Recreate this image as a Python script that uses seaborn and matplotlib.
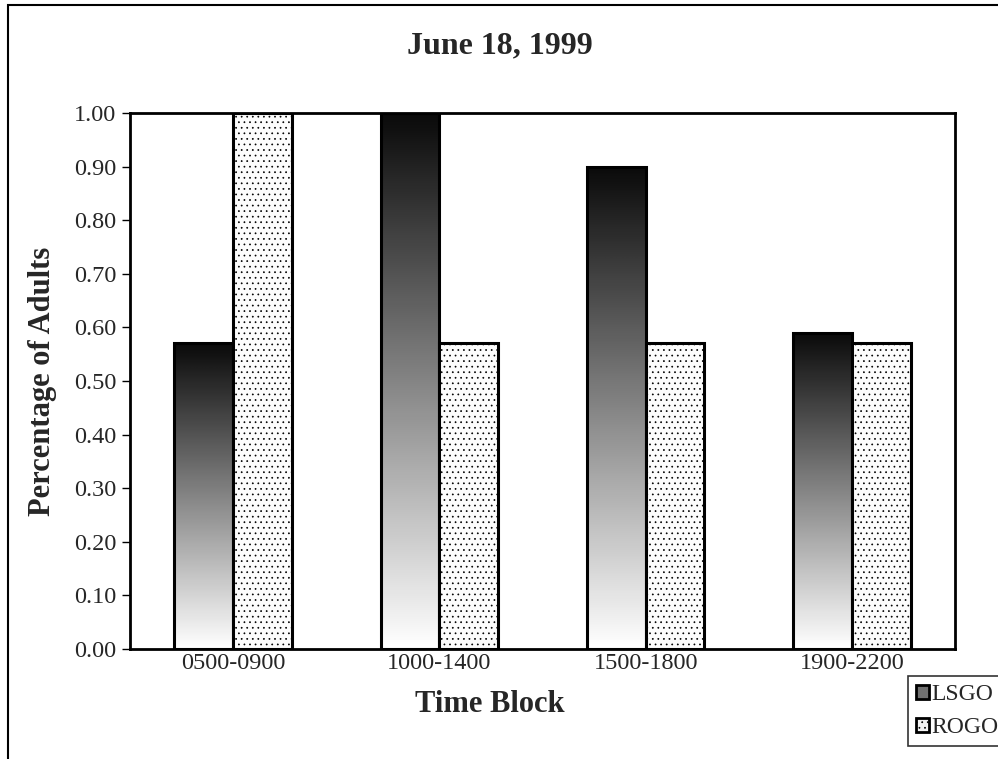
import numpy as np
import pandas as pd
import matplotlib
matplotlib.use("Agg")
import matplotlib.pyplot as plt
import seaborn as sns
from matplotlib.patches import Patch, Rectangle

# ---- data ----
categories = ["0500-0900", "1000-1400", "1500-1800", "1900-2200"]
series_names = ["LSGO", "ROGO"]
lsgo_values = [0.57, 1.00, 0.90, 0.59]
rogo_values = [1.00, 0.57, 0.57, 0.57]
y_ticks = [0.0, 0.1, 0.2, 0.3, 0.4, 0.5, 0.6, 0.7, 0.8, 0.9, 1.0]
title_text = "June 18, 1999"
x_label = "Time Block"
y_label = "Percentage of Adults"

df = pd.DataFrame({
    "Time Block": categories * 2,
    "Series": [series_names[0]] * 4 + [series_names[1]] * 4,
    "Value": lsgo_values + rogo_values,
})

sns.set_theme(style="white")
plt.rcParams["font.family"] = ["Liberation Serif", "DejaVu Serif"]
plt.rcParams["hatch.color"] = "#aaaaaa"
plt.rcParams["hatch.linewidth"] = 0.5

fig = plt.figure(figsize=(9.98, 7.59), dpi=100)
ax = fig.add_axes([130/998, 1-649/759, (955-130)/998, (649-113)/759])

sns.barplot(data=df, x="Time Block", y="Value", hue="Series", order=categories,
            hue_order=series_names, width=0.57, ax=ax, legend=False,
            palette=["#ffffff", "#fcfcfc"], edgecolor="black", linewidth=2.2,
            saturation=1)

grad = np.linspace(0.04, 1.0, 256).reshape(-1, 1)
bars = [p for p in ax.patches if isinstance(p, Rectangle)]
n = len(categories)
for i, p in enumerate(bars):
    if i < n:
        x0, y0 = p.get_x(), p.get_y()
        w, h = p.get_width(), p.get_height()
        p.set_facecolor("none")
        p.set_zorder(3)
        im = ax.imshow(grad, extent=[x0, x0 + w, y0, y0 + h], aspect="auto",
                       cmap="gray", vmin=0, vmax=1, zorder=2, origin="upper",
                       interpolation="bicubic")
        im.set_clip_path(p)
    else:
        p.set_hatch("...")
        p.set_zorder(3)
ax.set_xlim(-0.5, 3.5)
ax.set_ylim(0, 1.0)
ax.set_aspect("auto")

ax.set_yticks(y_ticks)
ax.set_yticklabels([f"{v:.2f}" for v in y_ticks], fontsize=17.5)
ax.set_xticks(range(n))
ax.set_xticklabels(categories, fontsize=17.5)
ax.set_xticks([i - 0.5 for i in range(n + 1)], minor=True)
ax.tick_params(axis="x", which="major", length=0, pad=3)
ax.tick_params(axis="x", which="minor", length=7, width=1, direction="out", color="black")
ax.tick_params(axis="y", which="major", length=6, width=1, direction="out", color="black", pad=4, left=True)
for s in ax.spines.values():
    s.set_visible(True)
    s.set_color("black")
    s.set_linewidth(2)
ax.set_xlabel("")
ax.set_ylabel(y_label, fontsize=22, fontweight="bold", labelpad=12)

fig.text(500/998, 1-46/759, title_text, ha="center", va="center", fontsize=23, fontweight="bold")
fig.text(490/998, 1-704/759, x_label, ha="center", va="center", fontsize=22, fontweight="bold")

# outer frame
frame = Rectangle((8/998, -0.2), 1.5, (1-5/759) + 0.2, transform=fig.transFigure,
                  fill=False, edgecolor="black", linewidth=1.5, clip_on=False)
fig.add_artist(frame)

handles = [
    Patch(facecolor="#707070", edgecolor="black", linewidth=2),
    Patch(facecolor="#f4f4f4", edgecolor="black", linewidth=2, hatch="..."),
]
leg = fig.legend(handles, series_names, loc="upper left",
                 bbox_to_anchor=(908/998, 1-676/759), fontsize=17,
                 frameon=True, fancybox=False, edgecolor="black",
                 handlelength=0.55, handleheight=0.55, handletextpad=0.1,
                 borderpad=0.35, labelspacing=0.5, borderaxespad=0)
leg.get_frame().set_linewidth(1.2)

fig.savefig("out.png", dpi=100)
